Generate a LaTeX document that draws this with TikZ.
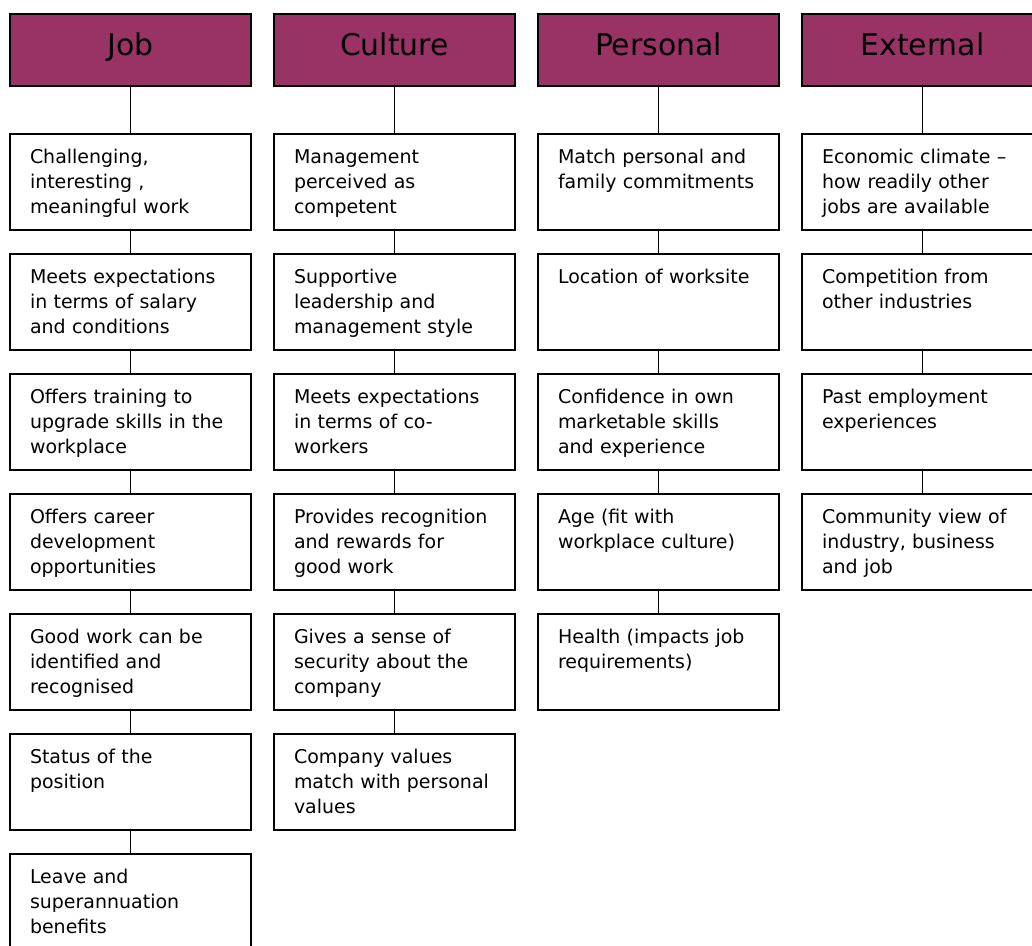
\documentclass[tikz,border=0pt]{standalone}
\usepackage{fontspec}
\setmainfont{DejaVu Sans}
\usepackage{xcolor}
\usetikzlibrary{positioning}

\definecolor{plum}{RGB}{153,51,102}

\tikzset{
	head/.style={draw, fill=plum, line width=0.9pt, outer sep=0pt, minimum width=4.82cm, inner xsep=0pt, inner ysep=0pt,
		text height=0.82cm, text depth=0.62cm, font=\fontsize{17pt}{20pt}\selectfont},
	item/.style={draw, line width=0.9pt, outer sep=0pt, text width=4.02cm, inner xsep=0.4cm, inner ysep=0pt, align=left,
		text height=0.58cm, text depth=1.34cm, font=\fontsize{10.8pt}{0.5cm}\selectfont},
	link/.style={line width=0.9pt}
}

\begin{document}
\begin{tikzpicture}[node distance=0.48cm]
		\clip (0,0) rectangle (20.64,-18.9);
		\useasboundingbox (0,0) rectangle (20.64,-18.9);
		% headers
		\node[head, anchor=north] (job) at (2.61,-0.28) {Job};
		\node[head, anchor=north] (cult) at (7.89,-0.28) {Culture};
		\node[head, anchor=north] (pers) at (13.17,-0.28) {Personal};
		\node[head, anchor=north] (ext) at (18.45,-0.28) {External};
		% job
		\node[item, below=0.96cm of job] (job1) {Challenging,\\interesting ,\\meaningful work};
		\node[item, below=of job1] (job2) {Meets expectations\\in terms of salary\\and conditions};
		\node[item, below=of job2] (job3) {Offers training to\\upgrade skills in the\\workplace};
		\node[item, below=of job3] (job4) {Offers career\\development\\opportunities};
		\node[item, below=of job4] (job5) {Good work can be\\identified and\\recognised};
		\node[item, below=of job5] (job6) {Status of the\\position};
		\node[item, below=of job6] (job7) {Leave and\\superannuation\\benefits};
		% culture
		\node[item, below=0.96cm of cult] (cult1) {Management\\perceived as\\competent};
		\node[item, below=of cult1] (cult2) {Supportive\\leadership and\\management style};
		\node[item, below=of cult2] (cult3) {Meets expectations\\in terms of co-\\workers};
		\node[item, below=of cult3] (cult4) {Provides recognition\\and rewards for\\good work};
		\node[item, below=of cult4] (cult5) {Gives a sense of\\security about the\\company};
		\node[item, below=of cult5] (cult6) {Company values\\match with personal\\values};
		% personal
		\node[item, below=0.96cm of pers] (pers1) {Match personal and\\family commitments};
		\node[item, below=of pers1] (pers2) {Location of worksite};
		\node[item, below=of pers2] (pers3) {Confidence in own\\marketable skills\\and experience};
		\node[item, below=of pers3] (pers4) {Age (fit with\\workplace culture)};
		\node[item, below=of pers4] (pers5) {Health (impacts job\\requirements)};
		% external
		\node[item, below=0.96cm of ext] (ext1) {Economic climate –\\how readily other\\jobs are available};
		\node[item, below=of ext1] (ext2) {Competition from\\other industries};
		\node[item, below=of ext2] (ext3) {Past employment\\experiences};
		\node[item, below=of ext3] (ext4) {Community view of\\industry, business\\and job};
		% links
		\foreach \a/\b in {job/job1, job1/job2, job2/job3, job3/job4, job4/job5, job5/job6, job6/job7,
			cult/cult1, cult1/cult2, cult2/cult3, cult3/cult4, cult4/cult5, cult5/cult6,
			pers/pers1, pers1/pers2, pers2/pers3, pers3/pers4, pers4/pers5,
			ext/ext1, ext1/ext2, ext2/ext3, ext3/ext4}
			\draw[link] (\a.south) -- (\b.north);
	\end{tikzpicture}
\end{document}
